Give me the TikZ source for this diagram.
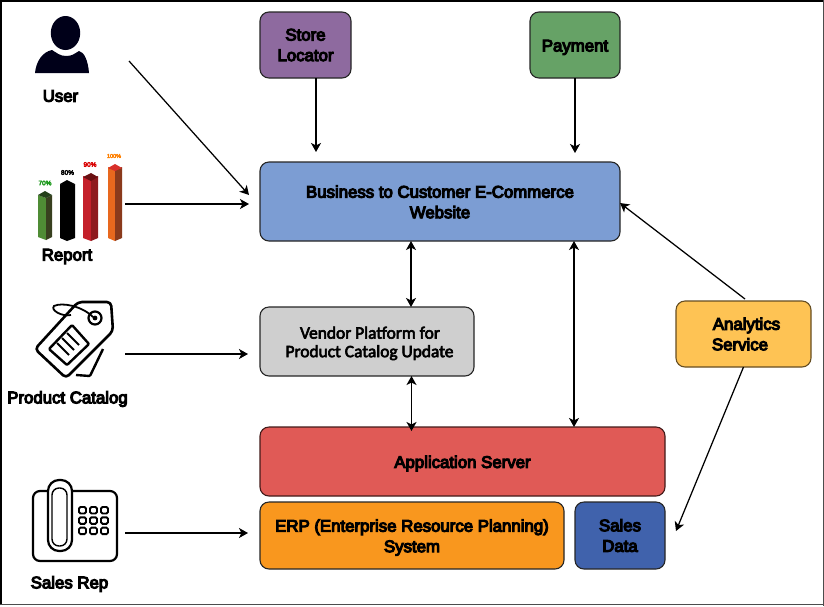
\documentclass[tikz,border=0pt]{standalone}
\usepackage{fontspec}
\setmainfont[FakeBold=6.5]{Liberation Sans}
\newfontfamily\calib[FakeBold=3.5]{Carlito}
\usetikzlibrary{arrows.meta,calc}
\definecolor{cpurple}{HTML}{8E6A9F}
\definecolor{cgreen}{HTML}{66A266}
\definecolor{cblue}{HTML}{7C9DD3}
\definecolor{cgray}{HTML}{CFCFCF}
\definecolor{cred}{HTML}{E05A56}
\definecolor{corange}{HTML}{F9971E}
\definecolor{cdblue}{HTML}{4062AC}
\definecolor{cyellow}{HTML}{FEC354}
\newcommand{\dn}[1]{\raisebox{-2.2pt}[12pt][3.6pt]{#1}}
\tikzset{
  box/.style={draw=black!85,line width=1.1pt,rounded corners=9pt,outer sep=0pt,inner sep=0pt,align=center,font=\fontsize{16.8}{20.5}\selectfont,text=black},
  caplab/.style={font=\fontsize{16.8}{19}\selectfont,inner sep=0pt,text=black},
  arr/.style={line width=1.25pt,draw=black,-{Stealth[length=9pt,width=10pt,inset=2.5pt]}},
  darr/.style={line width=1.25pt,draw=black,{Stealth[length=9pt,width=10pt,inset=2.5pt]}-{Stealth[length=9pt,width=10pt,inset=2.5pt]}},
  icon/.style={line width=2pt,draw=black,line join=round,rounded corners=3pt},
  pct/.style={font=\fontsize{6.5}{7}\selectfont,inner sep=0pt},
}
\begin{document}
\begin{tikzpicture}[x=1pt,y=-1pt]
\useasboundingbox (0,0) rectangle (824,606);
\fill[white] (0,0) rectangle (824,606);
\draw[black,line width=1.6pt] (0.8,605) -- (0.8,0.8) -- (823,0.8);
\draw[black!70,line width=1.4pt] (0,604.5) -- (824,604.5);
\draw[black!70,line width=1pt] (823.3,0) -- (823.3,606);

% boxes
\node[box,fill=cpurple,minimum width=91pt,minimum height=66pt] (store) at (305.5,45) {Store\\Locator};
\node[box,fill=cgreen,minimum width=90pt,minimum height=66pt] (pay) at (575,45) {\dn{Payment}};
\node[box,fill=cblue,minimum width=360pt,minimum height=79pt] (biz) at (440,201.5) {\dn{Business to Customer E-Commerce}\\\dn{Website}};
\node[box,fill=cgray,minimum width=214pt,minimum height=69pt,font={\calib\fontsize{17.4}{18.5}\selectfont}] (vendor) at (367,341.5) {\dn{\hspace*{6pt}Vendor Platform for}\\\dn{\hspace*{5pt}Product Catalog Update}};
\node[box,fill=cred,minimum width=405pt,minimum height=69pt,draw=black!70!cred] (app) at (462.5,461.5) {\dn{Application Server}};
\node[box,fill=corange,minimum width=304pt,minimum height=67pt] (erp) at (412,535.5) {\dn{ERP (Enterprise Resource Planning)}\\\dn{System}};
\node[box,fill=cdblue,minimum width=90pt,minimum height=67pt] (sales) at (620,535.5) {Sales\\Data};
\node[box,fill=cyellow,minimum width=135pt,minimum height=66pt,draw=black!60!cyellow] (ana) at (743.5,334) {\hspace*{6pt}Analytics\\Service\hspace*{7pt}};

% captions
\node[caplab] (userlab) at (60.5,96) {User};
\node[caplab] (reportlab) at (67,256.5) {Report};
\node[caplab] (catlab) at (67.5,399) {Product Catalog};
\node[caplab] (replab) at (69.5,584) {Sales Rep};

% user icon
\fill[black!90!blue] (65.5,33) ellipse[x radius=14.7pt,y radius=17pt];
\fill[black!90!blue] (35,73) .. controls (36,62) and (42,52) .. (52,50)
  .. controls (57,53) and (60,56) .. (66,56) .. controls (72,56) and (74,54) .. (79,51)
  .. controls (84,52) and (88,60) .. (89,73) -- cycle;

% report icon
\definecolor{gf}{HTML}{4F8C35}\definecolor{gs}{HTML}{38401F}\definecolor{gt}{HTML}{24401A}
\definecolor{rf}{HTML}{C4202A}\definecolor{rs}{HTML}{8E1A1E}\definecolor{rt}{HTML}{6A1012}
\definecolor{of}{HTML}{E8681E}\definecolor{os}{HTML}{8A3A1C}\definecolor{ot}{HTML}{D8302A}
\newcommand{\barshape}[7]{% x0 xm x1 top bottom front side
  \fill[#6] (#1,#4+3) -- (#2,#4+6) -- (#2,#5) -- (#1,#5-3) -- cycle;
  \fill[#7] (#2,#4+6) -- (#3,#4+3) -- (#3,#5-3) -- (#2,#5) -- cycle;
}
\barshape{38}{46}{52}{192}{240}{gf}{gs}
\fill[gt] (38,195) -- (45,191) -- (52,195) -- (46,198) -- cycle;
\barshape{60}{67}{75}{181}{241}{black}{black}
\fill[black] (60,184) -- (67,180) -- (75,184) -- (67,188) -- cycle;
\barshape{83}{91}{98}{173}{241}{rf}{rs}
\fill[rt] (83,177) -- (91,173) -- (98,177) -- (91,181) -- cycle;
\barshape{108}{115}{122}{164}{241}{of}{os}
\fill[ot] (108,168) -- (115,164) -- (122,168) -- (115,171) -- cycle;
\node[pct,text=green!55!black!90] (p70) at (45,183) {70\%};
\node[pct,text=black] (p80) at (67.5,172.5) {80\%};
\node[pct,text=red!85!black] (p90) at (90,164.5) {90\%};
\node[pct,text=orange,font=\fontsize{5.5}{6}\selectfont] (p100) at (114,156) {100\%};

% tag icon
\draw[icon,line width=2.6pt,rounded corners=4pt] (78,302) -- (111,302) -- (113,331) -- (66,378) -- (35,349) -- cycle;
\draw[icon,line width=2.4pt,rounded corners=1pt] (103,349) -- (90,376) -- (76,375);
\draw[line width=2.2pt] (95,318) circle[radius=6.5pt];
\fill (95,318) circle[radius=2.4pt];
\draw[line width=1.8pt] (93,317) .. controls (82,306) and (62,302) .. (54,306) .. controls (50,310) and (62,317) .. (71,315);
\draw[icon,line width=2.4pt,rounded corners=1pt] (72,325) -- (89,344) -- (67,365) -- (49,349) -- cycle;
\draw[line width=1.9pt] (67,333) -- (79,345) (62,338) -- (74,350) (57,343) -- (69,355);

% phone icon
\draw[icon,line width=2.2pt,rounded corners=7pt] (48,491) -- (33,491) -- (33,561) -- (117,561) -- (117,491) -- (72,491);
\draw[line width=2.2pt,rounded corners=11pt,fill=white] (48,480) rectangle (72,551);
\draw[line width=1.4pt,rounded corners=7pt] (52,488) rectangle (67,546);
\foreach \i in {0,1,2}{\foreach \j in {0,1,2}{
  \draw[line width=1.9pt,rounded corners=1.5pt] (79+\i*11,507+\j*10.3) rectangle +(7,6.5);
}}

% free ends
\coordinate (userend) at (129,61);
\coordinate (repend) at (125,204);
\coordinate (catend) at (125,354);
\coordinate (phoneend) at (125,533);

% connectors
\draw[arr] (userend) -- ([yshift=6.5pt,xshift=-11pt]biz.west);
\draw[arr] (repend) -- ([xshift=-11pt,yshift=-2.5pt]biz.west);
\draw[arr] (catend) -- ([xshift=-12pt,yshift=-12.5pt]vendor.west);
\draw[arr] (phoneend) -- ([xshift=-12pt,yshift=2.5pt]erp.west);
\draw[arr] ([xshift=10.5pt]store.south) -- ([xshift=-124pt,yshift=10pt]biz.north);
\draw[arr] ([xshift=0pt]pay.south) -- ([xshift=135pt,yshift=9pt]biz.north);
\draw[darr] ([xshift=-29pt]biz.south) -- ([xshift=44pt]vendor.north);
\draw[darr] ([xshift=44.5pt]vendor.south) -- ([xshift=-51pt,yshift=-4pt]app.north);
\draw[darr] ([xshift=134pt]biz.south) -- ([xshift=111.5pt]app.north);
\draw[arr] ([xshift=1.5pt,yshift=2pt]ana.north) -- ([yshift=-1.5pt]biz.east);
\draw[arr] (ana.south) -- ([xshift=11pt,yshift=4.5pt]sales.east);
\end{tikzpicture}
\end{document}
